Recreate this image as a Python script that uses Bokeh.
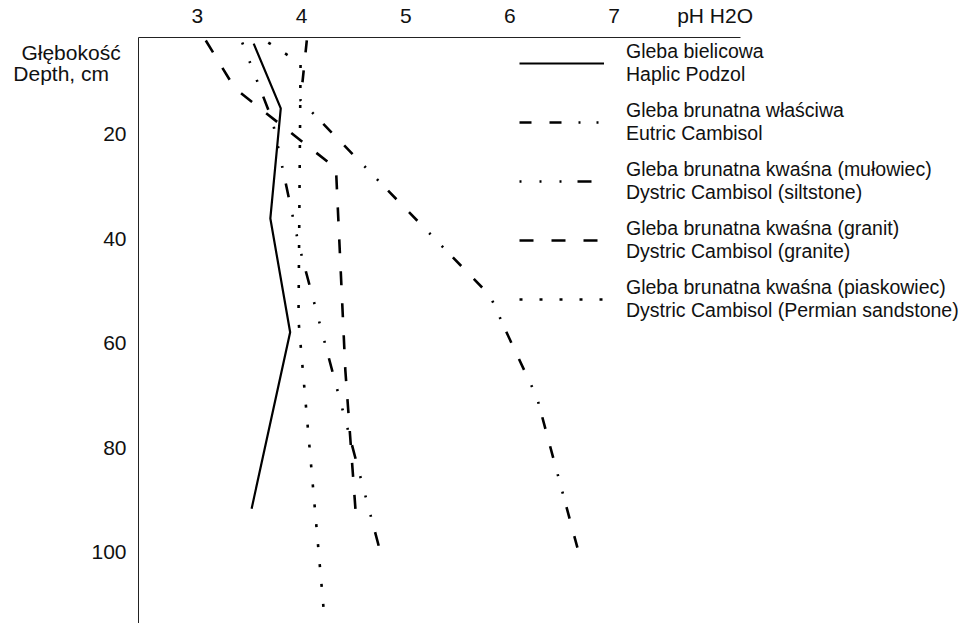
from bokeh.plotting import figure
from bokeh.models import Range1d, FixedTicker, Legend, LegendItem
from bokeh.embed import file_html
from bokeh.resources import INLINE

# pH (H2O) profiles vs depth (cm)
podzol_ph = [3.54, 3.80, 3.70, 3.89, 3.52]
podzol_depth = [2.7, 15.1, 36.2, 58.0, 91.8]

eutric_ph = [4.05, 3.99, 5.81, 5.96, 6.26, 6.65]
eutric_depth = [2.1, 13.6, 51.0, 57.7, 70.5, 99.4]

silt_ph = [3.43, 3.72, 3.97, 4.76]
silt_depth = [2.5, 17.4, 41.0, 100.4]

granite_ph = [3.08, 3.36, 4.33, 4.42, 4.52]
granite_depth = [2.1, 11.3, 26.6, 65.3, 92.7]

sand_ph = [3.68, 3.99, 3.97, 4.21]
sand_depth = [2.5, 6.5, 55.7, 110.7]

x_ticks = [3, 4, 5, 6, 7]
x_title_tick = 7.97
x_title = "pH H2O"
y_ticks = [20, 40, 60, 80, 100]
y_title_ticks = [4.4, 8.4]
y_title = ["Głębokość", "Depth, cm"]

labels = [
    "Gleba bielicowa\nHaplic Podzol",
    "Gleba brunatna właściwa\nEutric Cambisol",
    "Gleba brunatna kwaśna (mułowiec)\nDystric Cambisol (siltstone)",
    "Gleba brunatna kwaśna (granit)\nDystric Cambisol (granite)",
    "Gleba brunatna kwaśna (piaskowiec)\nDystric Cambisol (Permian sandstone)",
]

FONT = "Liberation Sans"
NB = "\u00a0"

p = figure(width=966, height=623, output_backend="svg", toolbar_location=None,
           x_axis_location="above",
           x_range=Range1d(2.434, 10.384), y_range=Range1d(113.8, 1.53),
           min_border_left=138, min_border_top=37, min_border_right=0,
           min_border_bottom=0)
p.outline_line_color = None
p.grid.visible = False
p.background_fill_color = "white"

for ax in (p.xaxis[0], p.yaxis[0]):
    ax.major_tick_line_color = None
    ax.minor_tick_line_color = None
    ax.axis_line_color = "#222222"
    ax.axis_line_width = 1
    ax.major_label_text_font = FONT
    ax.major_label_text_font_size = "21px"
    ax.major_label_text_color = "#111111"

p.xaxis.ticker = FixedTicker(ticks=x_ticks + [x_title_tick])
p.xaxis.major_label_overrides = {x_title_tick: x_title}
p.xaxis.bounds = (2.434, 8.214)
p.xaxis.major_label_standoff = 5

p.yaxis.ticker = FixedTicker(ticks=y_title_ticks + y_ticks)
p.yaxis.major_label_overrides = {y_title_ticks[0]: y_title[0] + NB,
                                 y_title_ticks[1]: y_title[1] + NB * 3}
p.yaxis.major_label_standoff = 6

r1 = p.line(podzol_ph, podzol_depth, line_color="black", line_width=2.2)
r2 = p.line(eutric_ph, eutric_depth, line_color="black", line_width=2.6,
            line_dash="12 18 12 17 2 16 2 14")
r3 = p.line(silt_ph, silt_depth, line_color="black", line_width=2.6,
            line_dash="2 18 2 18 2 16 14 18")
r4 = p.line(granite_ph, granite_depth, line_color="black", line_width=2.6,
            line_dash="14 18")
r5 = p.line(sand_ph, sand_depth, line_color="black", line_width=2.6,
            line_dash="3 17")

legend = Legend(items=[LegendItem(label=l, renderers=[r]) for l, r in
                       zip(labels, [r1, r2, r3, r4, r5])],
                location=(381, 301), padding=0, margin=0, spacing=13,
                glyph_width=85, glyph_height=14, label_standoff=22,
                label_text_font=FONT, label_text_font_size="19.5px",
                label_text_color="#111111", label_text_line_height=1.15,
                border_line_color=None, background_fill_alpha=0)
p.add_layout(legend, "center")

open("out.html", "w").write(file_html(p, INLINE))
